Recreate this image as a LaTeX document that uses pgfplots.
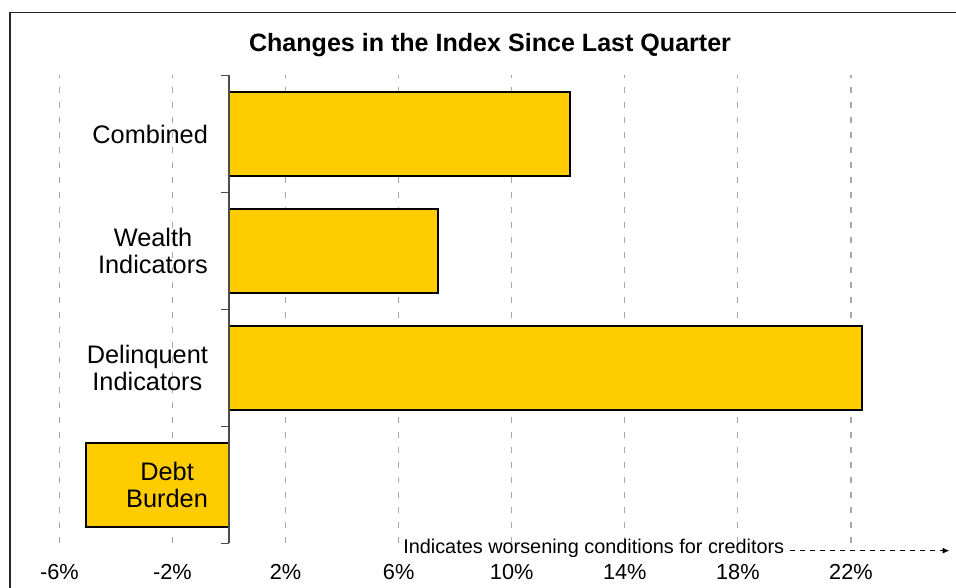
\documentclass[border=0pt]{standalone}
\usepackage{pgfplots}
\pgfplotsset{compat=1.18}
\usepackage{fontspec}
\setmainfont{Liberation Sans}
\usetikzlibrary{arrows.meta}
\definecolor{baryellow}{HTML}{FFCC00}
\definecolor{gridgray}{HTML}{A8A8A8}
\begin{document}
\begin{tikzpicture}
\useasboundingbox (0pt,0pt) rectangle (717pt,441pt);
\draw[line width=0.9pt, black!85] (7.5pt,-5pt) -- (7.5pt,431.5pt) -- (730pt,431.5pt);
\node[anchor=base, inner sep=0pt, font=\fontsize{18.8}{22}\selectfont\bfseries] at (367.5pt,402.2pt) {Changes in the Index Since Last Quarter};
\begin{axis}[
  at={(12.75pt,33.375pt)}, anchor=south west,
  scale only axis, width=699.7pt, height=351pt,
  xmin=-7.5, xmax=25.5, ymin=-0.5, ymax=3.5,
  axis x line*=bottom, axis y line*=left,
  axis line style={draw=none},
  xtick={-6,-2,2,6,10,14,18,22},
  xticklabels={-6\%,-2\%,2\%,6\%,10\%,14\%,18\%,22\%},
  ytick=\empty,
  xmajorgrids,
  major grid style={gridgray, dash pattern=on 4.5pt off 6.75pt, line width=0.85pt},
  major tick length=0pt,
  xticklabel style={font=\fontsize{16.3}{19}\selectfont, anchor=base, yshift=-26.9pt},
  clip=false,
]
\addplot[xbar, bar width=63pt, fill=baryellow, draw=black, line width=1.5pt]
  coordinates {(-5.07,0) (22.4,1) (7.4,2) (12.06,3)};
\draw[line width=0.9pt, black!70] (axis cs:0,-0.5) -- (axis cs:0,3.5);
\draw[line width=0.9pt, black!70] (axis cs:0,-0.5) -- (axis cs:-0.28,-0.5);
\draw[line width=0.9pt, black!70] (axis cs:0,0.5) -- (axis cs:-0.28,0.5);
\draw[line width=0.9pt, black!70] (axis cs:0,1.5) -- (axis cs:-0.28,1.5);
\draw[line width=0.9pt, black!70] (axis cs:0,2.5) -- (axis cs:-0.28,2.5);
\draw[line width=0.9pt, black!70] (axis cs:0,3.5) -- (axis cs:-0.28,3.5);
\node[anchor=east, align=center, font=\fontsize{19}{20.5}\selectfont] at (axis cs:-0.58,3) {Combined};
\node[anchor=east, align=center, font=\fontsize{19}{20.5}\selectfont] at (axis cs:-0.58,2) {Wealth\\Indicators};
\node[anchor=east, align=center, font=\fontsize{19}{20.5}\selectfont] at (axis cs:-0.58,1) {Delinquent\\Indicators};
\node[anchor=east, align=center, font=\fontsize{19}{20.5}\selectfont] at (axis cs:-0.58,0) {Debt\\Burden};
\end{axis}
\node[anchor=base west, inner sep=0pt, font=\fontsize{14.9}{17}\selectfont] at (302.25pt,25.5pt) {Indicates worsening conditions for creditors};
\draw[dash pattern=on 3.75pt off 3.75pt, line width=0.75pt, -{Latex[length=5pt,width=4.5pt]}] (592.5pt,28pt) -- (712pt,28pt);
\end{tikzpicture}
\end{document}
